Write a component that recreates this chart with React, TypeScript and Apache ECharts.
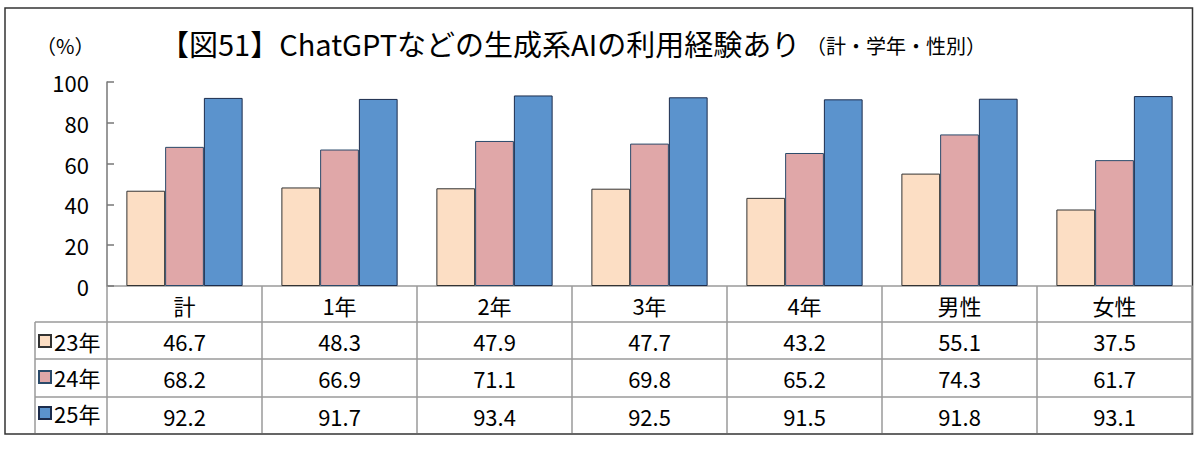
import React, { useEffect, useRef } from "react";
import * as echarts from "echarts";

const categories = ["計", "1年", "2年", "3年", "4年", "男性", "女性"];
const seriesNames = ["23年", "24年", "25年"];
const values23 = [46.7, 48.3, 47.9, 47.7, 43.2, 55.1, 37.5];
const values24 = [68.2, 66.9, 71.1, 69.8, 65.2, 74.3, 61.7];
const values25 = [92.2, 91.7, 93.4, 92.5, 91.5, 91.8, 93.1];
const yTicks = [0, 20, 40, 60, 80, 100];

const titleMain = "【図51】ChatGPTなどの生成系AIの利用経験あり";
const titleSub = "（計・学年・性別）";
const unitLabel = "（%）";

const FONT = "'Noto Sans CJK JP', 'Noto Sans', sans-serif";
const colors = ["#FCDEC4", "#E0A7A8", "#5B93CD"];
const borders = ["#333333", "#2a4a6a", "#1c2c4c"];
const gridGray = "#9a9a9a";

export default function App() {
  const ref = useRef<HTMLDivElement>(null);
  useEffect(() => {
    if (!ref.current) return;
    const chart = echarts.init(ref.current, null, { renderer: "svg" });
    const rows = [values23, values24, values25];
    const rowOffsets = [36, 73, 111];
    const gridLeft = 107;
    const gridRight = 1192;
    const tableTop = 286;
    const tableBottom = 433;
    const rowLines = [322, 359, 397];
    const leftCol = 35;

    const valueAxes = rows.map((row, i) => ({
      type: "category",
      data: categories,
      position: "bottom",
      offset: rowOffsets[i],
      axisLine: { show: false },
      axisTick: { show: false },
      axisLabel: {
        margin: 8,
        fontSize: 22,
        color: "#000",
        fontFamily: FONT,
        formatter: (_v: string, idx: number) => row[idx].toFixed(1),
      },
    }));

    chart.setOption({
      animation: false,
      backgroundColor: "#fff",
      grid: { left: gridLeft, right: 1200 - gridRight, top: 82, bottom: 450 - tableTop, containLabel: false },
      legend: {
        orient: "vertical",
        left: 38,
        top: 330,
        padding: 0,
        itemWidth: 12,
        itemHeight: 12,
        itemGap: 14,
        icon: "rect",
        selectedMode: false,
        data: seriesNames,
        textStyle: { fontSize: 22, lineHeight: 20, color: "#000", fontFamily: FONT, padding: [0, 0, 0, -2] },
      },
      xAxis: [
        {
          type: "category",
          data: categories,
          position: "bottom",
          axisLine: { show: true, lineStyle: { color: gridGray, width: 1.5 } },
          axisTick: { show: true, interval: 0, length: tableBottom - tableTop, lineStyle: { color: gridGray, width: 1.5 } },
          axisLabel: { margin: 8, fontSize: 22, color: "#000", fontFamily: FONT },
        },
        ...valueAxes,
      ],
      yAxis: {
        type: "value",
        min: 0,
        max: 100,
        interval: 20,
        axisLine: { show: true, lineStyle: { color: "#777", width: 1.5 } },
        axisTick: { show: true, inside: true, length: 7, lineStyle: { color: "#777", width: 1.5 } },
        axisLabel: {
          margin: 18,
          fontSize: 22,
          color: "#000",
          fontFamily: FONT,
          formatter: (v: number) => (yTicks.includes(v) ? String(v) : ""),
        },
        splitLine: { show: false },
      },
      series: rows.map((row, i) => ({
        type: "bar",
        name: seriesNames[i],
        data: row,
        xAxisIndex: 0,
        barGap: "0%",
        barCategoryGap: "25%",
        itemStyle: { color: colors[i], borderColor: borders[i], borderWidth: 1 },
      })),
      graphic: [
        {
          type: "rect",
          shape: { x: 5, y: 8, width: 1187.5, height: 426 },
          style: { fill: "none", stroke: "#333", lineWidth: 1.5 },
          silent: true,
        },
        ...rowLines.map((y) => ({
          type: "line",
          shape: { x1: leftCol, y1: y, x2: gridRight, y2: y },
          style: { stroke: gridGray, lineWidth: 1.5 },
          silent: true,
        })),
        {
          type: "line",
          shape: { x1: leftCol, y1: rowLines[0], x2: leftCol, y2: tableBottom },
          style: { stroke: gridGray, lineWidth: 1.5 },
          silent: true,
        },
        {
          type: "text",
          x: 160,
          y: 43,
          style: { text: titleMain, fontSize: 29, fontFamily: FONT, fill: "#000", verticalAlign: "middle" },
        },
        {
          type: "text",
          x: 806,
          y: 45,
          style: { text: titleSub, fontSize: 20, fontFamily: FONT, fill: "#000", verticalAlign: "middle" },
        },
        {
          type: "text",
          x: 36,
          y: 45,
          style: { text: unitLabel, fontSize: 20, fontFamily: FONT, fill: "#000", verticalAlign: "middle" },
        },
      ],
    });
    return () => chart.dispose();
  }, []);
  return <div ref={ref} style={{ position: "fixed", left: 0, top: 0, width: 1200, height: 450 }} />;
}
